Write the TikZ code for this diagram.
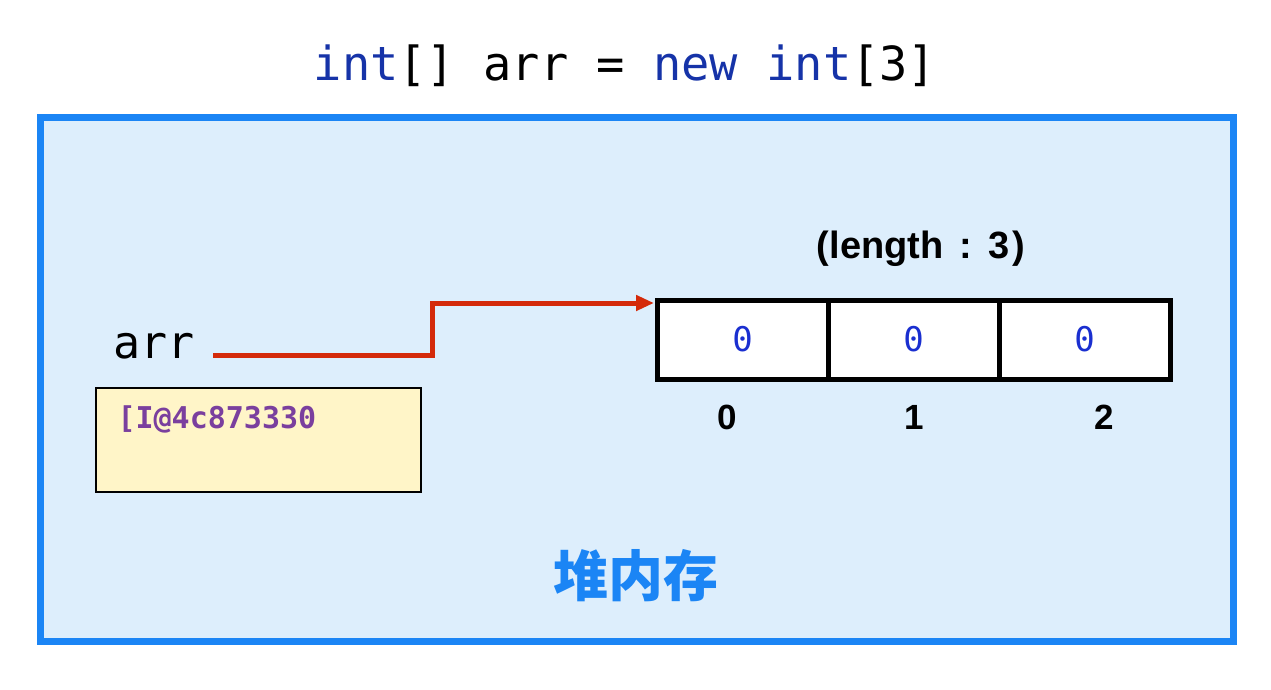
\documentclass[tikz,border=0pt]{standalone}
\usepackage{fontspec}
\setmainfont{Liberation Sans}
\setmonofont{DejaVu Sans Mono}
\newfontfamily\cjk{Noto Sans CJK SC}
\newfontfamily\codefont{DejaVu Sans Mono}
\usetikzlibrary{arrows.meta}
\definecolor{frameblue}{HTML}{1B85F5}
\definecolor{heapbg}{HTML}{DDEEFC}
\definecolor{kwblue}{HTML}{1633A8}
\definecolor{valblue}{HTML}{1A2FD0}
\definecolor{refred}{HTML}{D42A0A}
\definecolor{addrpurple}{HTML}{7A3F9E}
\definecolor{noteyellow}{HTML}{FFF5C8}
\tikzset{
  cellbox/.style={draw=black, line width=5pt, fill=white, minimum width=171pt, minimum height=79pt, inner sep=0pt, font=\codefont\fontsize{34}{36}\selectfont, text=valblue},
  idx/.style={font=\bfseries\fontsize{35}{37}\selectfont, text=black},
  refarrow/.style={draw=refred, line width=5pt, -{Triangle[length=18pt,width=15pt]}}
}
\begin{document}
\begin{tikzpicture}[x=1pt,y=-1pt]
\useasboundingbox (0,0) rectangle (1271,689);
\fill[white] (0,0) rectangle (1271,689);
\node[draw=frameblue, line width=7pt, fill=heapbg, minimum width=1193pt, minimum height=524pt, inner sep=0pt] (heap) at (636.5,379) {};
\node (title) at (625,66) {\codefont\fontsize{47}{50}\selectfont\textcolor{kwblue}{int}[] arr = \textcolor{kwblue}{new} \textcolor{kwblue}{int}[3]};
\node[font=\codefont\fontsize{45}{48}\selectfont] (arr) at (154,346) {arr};
\node[draw=black, line width=2pt, fill=noteyellow, minimum width=325pt, minimum height=104pt, inner sep=0pt] (addrbox) at (258.5,440) {};
\node[anchor=west, font=\codefont\bfseries\fontsize{30}{32}\selectfont, text=addrpurple] (addr) at (114,419) {[I@4c873330};
\node[cellbox] (c0) at (742.5,339.5) {0};
\node[cellbox] (c1) at (913.5,339.5) {0};
\node[cellbox] (c2) at (1084.5,339.5) {0};
\node[font=\bfseries\fontsize{38}{40}\selectfont] (len) at (921,249) {(length\hspace{16pt}:\hspace{16pt}3\hspace{3pt})};
\node[idx] (i0) at (727,417) {0};
\node[idx] (i1) at (914,417) {1};
\node[idx] (i2) at (1104,417) {2};
\node[font=\cjk\bfseries\fontsize{55}{58}\selectfont, text=frameblue] (heaplabel) at (636,576) {堆内存};
\coordinate (s) at (213,355);
\coordinate (e) at (654,303);
\draw[refarrow] (s) -- (432,355) -- (432,303) -- (e);
\end{tikzpicture}
\end{document}
